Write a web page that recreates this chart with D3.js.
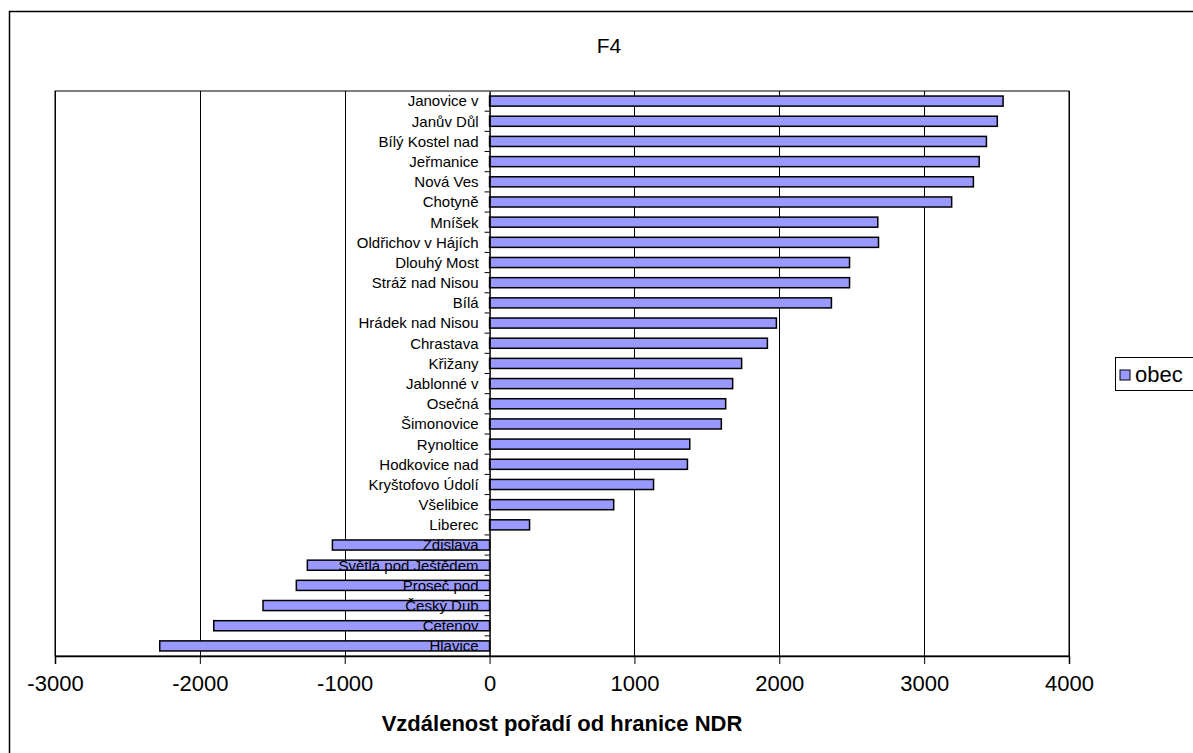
<!DOCTYPE html>
<html>
<head>
<meta charset="utf-8">
<script src="https://cdn.jsdelivr.net/npm/d3@7"></script>
<style>
  html, body { margin: 0; padding: 0; background: #fff; }
  svg { display: block; font-family: Arial, "Liberation Sans", sans-serif; }
</style>
</head>
<body>
<svg id="chart" width="1193" height="753"></svg>
<script>
// Municipalities, top to bottom
const categories = [
  "Janovice v", "Janův Důl", "Bílý Kostel nad", "Jeřmanice", "Nová Ves", "Chotyně",
  "Mníšek", "Oldřichov v Hájích", "Dlouhý Most", "Stráž nad Nisou", "Bílá",
  "Hrádek nad Nisou", "Chrastava", "Křižany", "Jablonné v", "Osečná", "Šimonovice",
  "Rynoltice", "Hodkovice nad", "Kryštofovo Údolí", "Všelibice", "Liberec",
  "Zdislava", "Světlá pod Ještědem", "Proseč pod", "Český Dub", "Cetenov", "Hlavice"
];
// Distance of rank from the GDR border
const values = [
  3545, 3505, 3430, 3380, 3340, 3190,
  2680, 2685, 2485, 2485, 2360,
  1980, 1918, 1740, 1678, 1630, 1600,
  1382, 1366, 1132, 857, 276,
  -1085, -1258, -1334, -1564, -1904, -2277
];
const xTicks = [-3000, -2000, -1000, 0, 1000, 2000, 3000, 4000];
const seriesName = "obec";
const chartTitle = "F4";
const axisTitle = "Vzdálenost pořadí od hranice NDR";

const svg = d3.select("#chart");
const plot = { left: 55, right: 1069, top: 91, bottom: 656 };

// Outer chart frame
svg.append("rect")
  .attr("x", 9.5).attr("y", 11.5).attr("width", 1200).attr("height", 800)
  .attr("fill", "#fff").attr("stroke", "#000").attr("stroke-width", 1.5);

const x = d3.scaleLinear().domain([-3000, 4000]).range([plot.left, plot.right]);
const y = d3.scaleBand().domain(categories).range([plot.top, plot.bottom]).paddingInner(0.5).paddingOuter(0.25);
const yBand = d3.scaleBand().domain(categories).range([plot.top, plot.bottom]);

// Plot area border
svg.append("rect")
  .attr("x", plot.left).attr("y", plot.top)
  .attr("width", plot.right - plot.left).attr("height", plot.bottom - plot.top)
  .attr("fill", "#fff").attr("stroke", "#000").attr("stroke-width", 1);

// Vertical gridlines
svg.append("g")
  .selectAll("line")
  .data(xTicks.filter(t => t !== 0))
  .join("line")
  .attr("x1", d => Math.round(x(d)) + 0.5).attr("x2", d => Math.round(x(d)) + 0.5)
  .attr("y1", plot.top).attr("y2", plot.bottom)
  .attr("stroke", "#000").attr("stroke-width", 1);

// Bars
svg.append("g")
  .selectAll("rect")
  .data(categories)
  .join("rect")
  .attr("x", (d, i) => x(Math.min(0, values[i])))
  .attr("y", d => y(d))
  .attr("width", (d, i) => Math.abs(x(values[i]) - x(0)))
  .attr("height", y.bandwidth())
  .attr("fill", "#9999ff")
  .attr("stroke", "#000")
  .attr("stroke-width", 1.5);

// Category axis at zero
const yAxis = d3.axisLeft(yBand).tickSize(0).tickFormat("");
const gy = svg.append("g").attr("transform", `translate(${x(0)},0)`).call(yAxis);
gy.select(".domain").attr("stroke", "#000").attr("stroke-width", 1.5);
// Tick marks on band boundaries
gy.selectAll("line.bound")
  .data(categories.slice(1))
  .join("line")
  .attr("class", "bound")
  .attr("x1", -5).attr("x2", 0)
  .attr("y1", d => yBand(d)).attr("y2", d => yBand(d))
  .attr("stroke", "#000").attr("stroke-width", 1);

// Category labels
svg.append("g")
  .selectAll("text")
  .data(categories)
  .join("text")
  .attr("x", x(0) - 11)
  .attr("y", d => yBand(d) + yBand.bandwidth() / 2)
  .attr("dy", "0.36em")
  .attr("text-anchor", "end")
  .attr("font-size", 15)
  .attr("fill", "#000")
  .text(d => d);

// Value axis
const xAxis = d3.axisBottom(x).tickValues(xTicks).tickSize(8).tickPadding(11).tickFormat(d => String(d));
const gx = svg.append("g").attr("transform", `translate(0,${plot.bottom})`).call(xAxis);
gx.select(".domain").attr("stroke", "#000").attr("stroke-width", 1.5);
gx.selectAll(".tick line").attr("stroke", "#000");
gx.selectAll(".tick text").attr("font-size", 22).attr("font-family", "Arial, 'Liberation Sans', sans-serif").attr("fill", "#000");

// Title
svg.append("text")
  .attr("x", 609).attr("y", 53)
  .attr("text-anchor", "middle")
  .attr("font-size", 21)
  .text(chartTitle);

// Axis title
svg.append("text")
  .attr("x", (plot.left + plot.right) / 2).attr("y", 731)
  .attr("text-anchor", "middle")
  .attr("font-size", 22).attr("font-weight", "bold")
  .text(axisTitle);

// Legend
const lg = svg.append("g").attr("transform", "translate(1115,357)");
lg.append("rect").attr("x", 0.5).attr("y", 0.5).attr("width", 100).attr("height", 33)
  .attr("fill", "#fff").attr("stroke", "#000").attr("stroke-width", 1);
lg.append("rect").attr("x", 5).attr("y", 13).attr("width", 10).attr("height", 10)
  .attr("fill", "#9999ff").attr("stroke", "#000").attr("stroke-width", 1);
lg.append("text").attr("x", 20).attr("y", 25).attr("font-size", 22).text(seriesName);
</script>
</body>
</html>
